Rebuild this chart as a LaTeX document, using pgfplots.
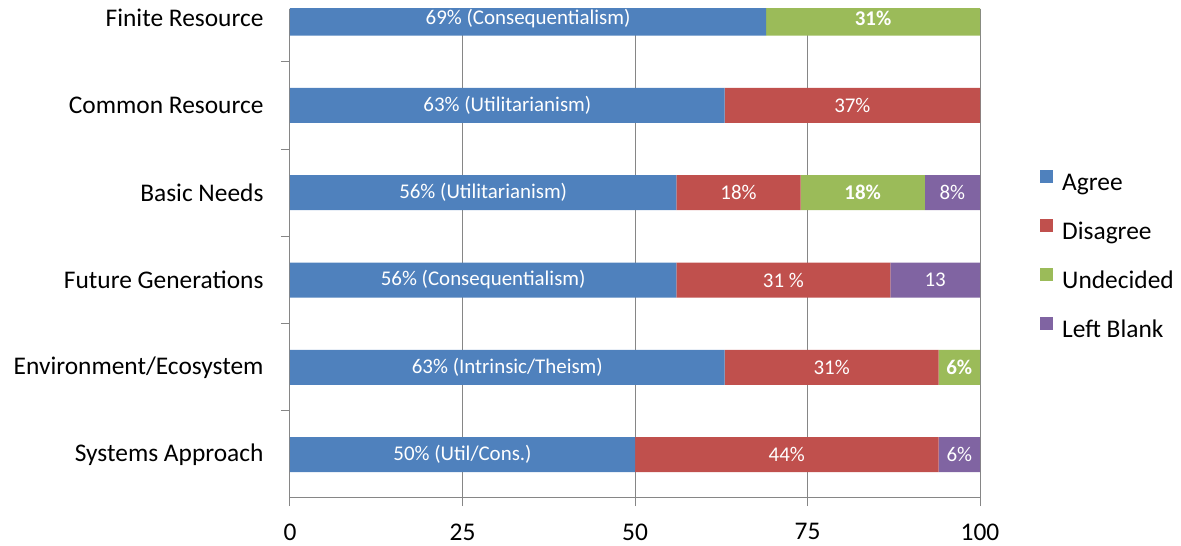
\documentclass[border=0pt]{standalone}
\usepackage{fontspec}
\setmainfont{Carlito}
\usepackage{pgfplots}
\usepackage{pgfplotstable}
\pgfplotsset{compat=1.18}

\definecolor{cAgree}{HTML}{4F81BD}
\definecolor{cDisagree}{HTML}{C0504D}
\definecolor{cUndecided}{HTML}{9BBB59}
\definecolor{cBlank}{HTML}{8064A2}
\definecolor{cAxis}{RGB}{134,134,134}

% y: 0 = Systems Approach ... 5 = Finite Resource
\pgfplotstableread[col sep=comma]{
y,x,label
0,50,50\% (Util/Cons.)
1,63,63\% (Intrinsic/Theism)
2,56,56\% (Consequentialism)
3,56,56\% (Utilitarianism)
4,63,63\% (Utilitarianism)
5,69,69\% (Consequentialism)
}\agree
\pgfplotstableread[col sep=comma]{
y,x,label
0,44,44\%
1,31,31\%
2,31,31 \%
3,18,18\%
4,37,37\%
5,0,-
}\disagree
\pgfplotstableread[col sep=comma]{
y,x,label
0,0,-
1,6,6\%
2,0,-
3,18,18\%
4,0,-
5,31,31\%
}\undecided
\pgfplotstableread[col sep=comma]{
y,x,label
0,6,6\%
1,0,-
2,13,13
3,8,8\%
4,0,-
5,0,-
}\leftblank

\begin{document}
\begin{tikzpicture}
\useasboundingbox (-290bp,-49bp) rectangle (891bp,497bp);
\begin{axis}[
  at={(0,0)}, anchor=south west,
  scale only axis,
  width=690bp, height=488bp,
  xbar stacked,
  bar width=35bp,
  xmin=0, xmax=100,
  ymin=-0.487, ymax=5.106,
  xtick={0,25,50,75,100},
  % category boundaries carry the tick marks
  ytick={-0.5,0.5,1.5,2.5,3.5,4.5},
  yticklabels={},
  % category names sit between them, without marks
  extra y ticks={0,1,2,3,4,5},
  extra y tick labels={Systems Approach,Environment/Ecosystem,Future Generations,Basic Needs,Common Resource,Finite Resource},
  extra y tick style={major tick length=0pt},
  major tick length=9bp,
  tick align=outside,
  axis lines*=left,
  axis line style={cAxis, line width=1bp},
  every tick/.style={cAxis, line width=1bp},
  xmajorgrids,
  grid style={cAxis, line width=1bp},
  /pgf/number format/assume math mode=true,
  tick label style={font=\fontsize{25.5}{30}\selectfont, text=black},
  xticklabel style={yshift=-14bp},
  yticklabel style={xshift=-23bp},
  point meta=explicit symbolic,
  visualization depends on={rawx \as \rawx},
  % empty segments get no value
  nodes near coords={\ifdim\rawx pt>0.1pt\relax\pgfplotspointmeta\fi},
  every node near coord/.append style={anchor=center,
     text=white, font=\fontsize{21}{25}\selectfont},
  legend style={draw=none, fill=none, at={(1.087,0.671)}, anchor=north west,
     inner sep=0pt, row sep=21bp, column sep=7bp, font=\fontsize{25.5}{30}\selectfont,
     nodes={inner sep=2bp, text height=18bp, text depth=5bp}},
  legend cell align=left,
  legend image code/.code={\fill[#1,draw=none] (0bp,1.5bp) rectangle (13bp,14.5bp);},
]
\addplot[fill=cAgree, draw=none] table[x=x, y=y, meta=label] {\agree};
\addplot[fill=cDisagree, draw=none] table[x=x, y=y, meta=label] {\disagree};
\addplot[fill=cUndecided, draw=none,
  every node near coord/.append style={font=\fontsize{21}{25}\selectfont\bfseries}]
  table[x=x, y=y, meta=label] {\undecided};
\addplot[fill=cBlank, draw=none] table[x=x, y=y, meta=label] {\leftblank};
\legend{Agree,Disagree,Undecided,Left Blank}
\end{axis}
\end{tikzpicture}
\end{document}
